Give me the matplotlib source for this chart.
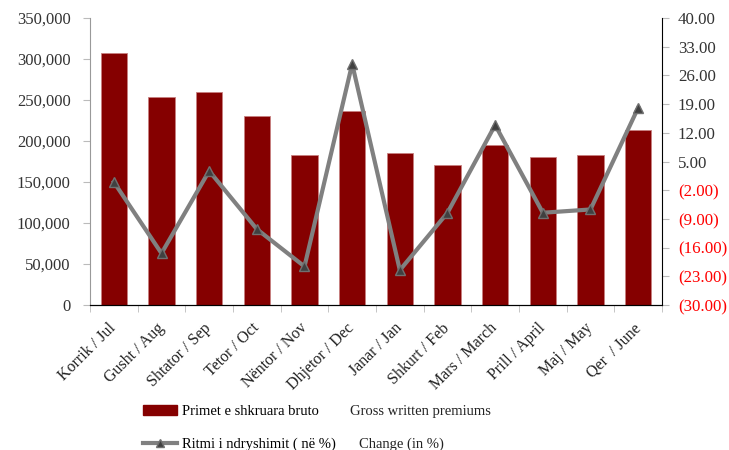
import matplotlib
matplotlib.use("Agg")
import matplotlib.pyplot as plt
from matplotlib.ticker import FixedLocator, NullFormatter
from matplotlib.lines import Line2D
from matplotlib.patches import Patch

plt.rcParams['font.family'] = ['Liberation Serif', 'DejaVu Serif']

categories = ["Korrik / Jul", "Gusht / Aug", "Shtator / Sep", "Tetor / Oct", "Nëntor / Nov",
              "Dhjetor / Dec", "Janar / Jan", "Shkurt / Feb", "Mars / March", "Prill / April",
              "Maj / May", "Qer  / June"]
premiums = [307000, 253500, 260000, 230000, 182500, 236000, 185000, 171000, 195000, 181000, 182500, 213500]
change = [0.0, -17.4, 2.7, -11.5, -20.6, 28.8, -21.5, -7.5, 13.9, -7.5, -6.7, 18.1]

left_ticks = list(range(0, 350001, 50000))
right_ticks = [40, 33, 26, 19, 12, 5, -2, -9, -16, -23, -30]

legend_left = ["Primet e shkruara bruto", "Ritmi i ndryshimit ( në %)"]
legend_right = ["Gross written premiums", "Change (in %)"]

fig = plt.figure(figsize=(7.29, 4.5), dpi=100)
ax = fig.add_axes([90/729, 1-305/450, (662-90)/729, (305-18)/450])
ax2 = ax.twinx()

x = list(range(len(categories)))
ax.bar(x, premiums, width=0.55, color='#850000', edgecolor='#c88080', linewidth=0.6, zorder=2)
ax.set_xlim(-0.5, len(categories) - 0.5)
ax.set_ylim(0, 350000)
ax.set_yticks(left_ticks)
ax.set_yticklabels([f"{v:,}" for v in left_ticks], fontsize=12, color='#333333')
ax.set_xticks(x)
ax.set_xticklabels(categories, rotation=45, ha='right', va='center', rotation_mode='anchor',
                   fontsize=11.5, color='#222222')
ax.tick_params(axis='x', length=0, pad=15)
ax.xaxis.set_minor_locator(FixedLocator([i - 0.5 for i in range(len(categories) + 1)]))
ax.xaxis.set_minor_formatter(NullFormatter())
ax.tick_params(axis='x', which='minor', length=5, color='#bbbbbb', direction='out')
ax.tick_params(axis='y', length=5, color='#bbbbbb', direction='out', pad=9)

ax2.plot(x, change, color='#808080', linewidth=3, marker='^', markersize=7,
         markerfacecolor='#404040', markeredgecolor='#707070', zorder=3)
ax2.set_ylim(-30, 40)
ax2.set_yticks(right_ticks)
labels = []
for v in right_ticks:
    labels.append(f"{v:.2f}" if v >= 0 else f"({abs(v):.2f})")
ax2.set_yticklabels(labels, fontsize=12.2)
for t, v in zip(ax2.get_yticklabels(), right_ticks):
    t.set_color('#333333' if v >= 0 else '#ff0000')
ax2.tick_params(axis='y', length=5, color='#bbbbbb', direction='out', pad=6.5)

for a in (ax, ax2):
    a.spines['top'].set_visible(False)
ax.spines['left'].set_color('#999999')
ax.spines['right'].set_visible(False)
ax2.spines['left'].set_visible(False)
ax2.spines['right'].set_color('black')
ax2.spines['bottom'].set_color('black')
ax.spines['bottom'].set_color('black')

handles = [Patch(facecolor='#850000', edgecolor='#850000'),
           Line2D([0], [0], color='#808080', linewidth=3, marker='^', markersize=6,
                  markerfacecolor='#404040', markeredgecolor='#707070')]
leg = fig.legend(handles, legend_left, loc='upper left', bbox_to_anchor=(143/729, 1-405/450),
                 frameon=False, fontsize=10.5, handlelength=2.35, handletextpad=0.3,
                 labelspacing=1.35, borderaxespad=0, borderpad=0)

fig.canvas.draw()
inv = fig.transFigure.inverted()
for txt, xr in zip(leg.get_texts(), [350, 359]):
    bb = txt.get_window_extent()
    yc = inv.transform(((bb.x0 + bb.x1) / 2, (bb.y0 + bb.y1) / 2))[1]
    fig.text(xr/729, yc, legend_right[legend_left.index(txt.get_text())], fontsize=10.5,
             va='center', ha='left', color='#222222')

fig.savefig("out.png", dpi=100)
